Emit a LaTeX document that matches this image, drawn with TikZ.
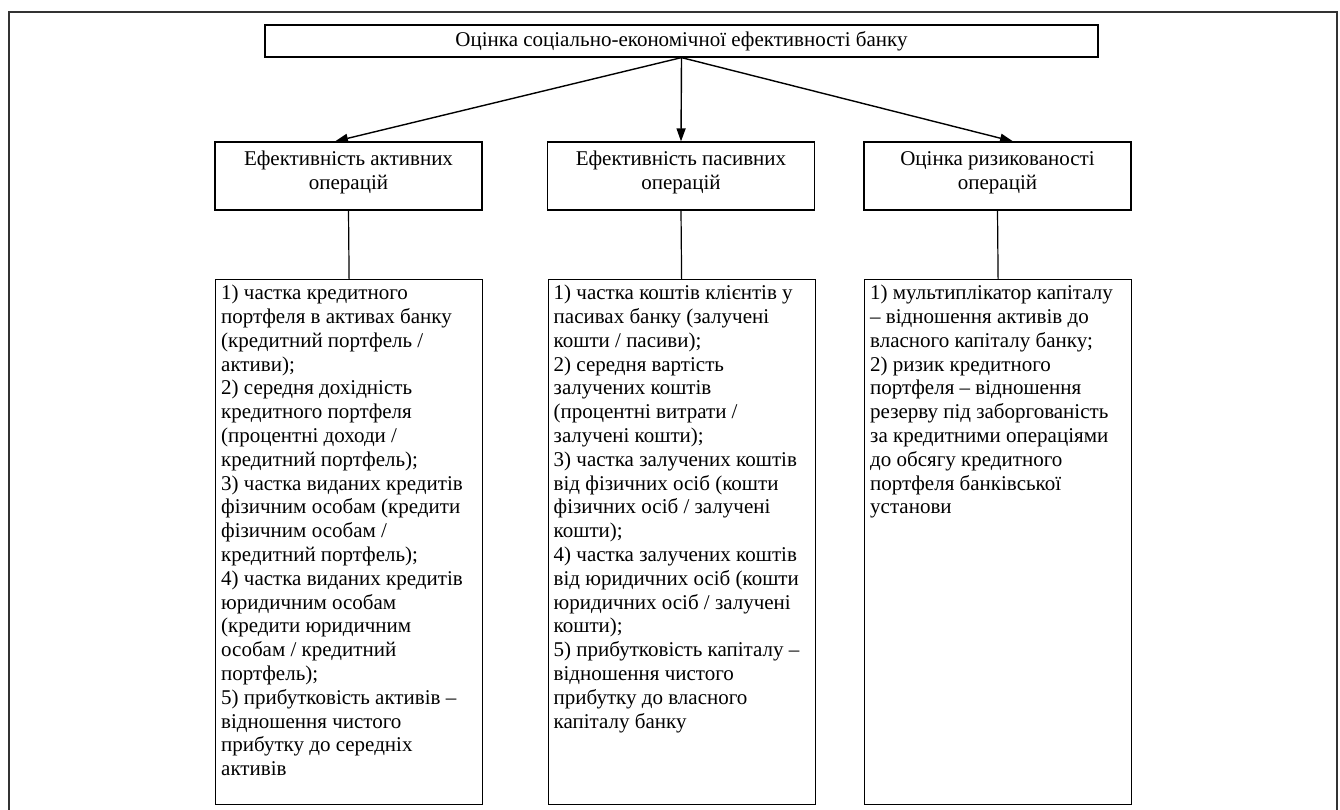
\documentclass[tikz,border=0pt]{standalone}
\usepackage{fontspec}
\setmainfont{Liberation Serif}
\usetikzlibrary{arrows.meta,calc}
\begin{document}
\begin{tikzpicture}[x=1pt,y=-1pt,
  every node/.style={font=\fontsize{21}{23.8}\selectfont},
  frame/.style={line width=2.2pt,draw=black!80},
  boxline/.style={draw,line width=1.2pt},
  headbox/.style={boxline,minimum width=267pt,minimum height=68pt,inner sep=0pt,align=center,text depth=11pt},
  listbox/.style={boxline,minimum width=267pt,minimum height=525pt,inner sep=0pt,anchor=north west},
  listtext/.style={inner sep=0pt,anchor=north west,align=left},
  arr/.style={line width=1.4pt,-{Triangle[length=13pt,width=9pt]}},
  link/.style={line width=1.2pt}]
\useasboundingbox (0,0) rectangle (1340,810);
% outer frame (open at the bottom)
\draw[frame] (9,815) -- (9,12) -- (1337,12) -- (1337,815);
% top box
\node[boxline,minimum width=833pt,minimum height=32pt,inner sep=0pt] (top) at (681.5,41) {Оцінка соціально-економічної ефективності банку};
% heading boxes
\node[headbox] (m1) at (348.5,176) {Ефективність активних\\операцій};
\node[headbox] (m2) at (681,176) {Ефективність пасивних\\операцій};
\node[headbox] (m3) at (997.5,176) {Оцінка ризикованості\\операцій};
% arrows
\draw[arr] (top.south) -- ([xshift=-13.5pt]m1.north);
\draw[arr] (top.south) -- (m2.north);
\draw[arr] (top.south) -- ([xshift=15.5pt]m3.north);
% list boxes
\node[listbox] (b1) at (215,279) {};
\node[listbox] (b2) at (547.5,279) {};
\node[listbox] (b3) at (864,279) {};
\draw[link] (m1.south) -- (b1.north);
\draw[link] (m2.south) -- (b2.north);
\draw[link] (m3.south) -- (b3.north);
\node[listtext] (t1) at ($(b1.north west)+(6,6)$) {1) частка кредитного\\портфеля в активах банку\\(кредитний портфель /\\активи);\\2) середня дохідність\\кредитного портфеля\\(процентні доходи /\\кредитний портфель);\\3) частка виданих кредитів\\фізичним особам (кредити\\фізичним особам /\\кредитний портфель);\\4) частка виданих кредитів\\юридичним особам\\(кредити юридичним\\особам / кредитний\\портфель);\\5) прибутковість активів –\\відношення чистого\\прибутку до середніх\\активів};
\node[listtext] (t2) at ($(b2.north west)+(6,6)$) {1) частка коштів клієнтів у\\пасивах банку (залучені\\кошти / пасиви);\\2) середня вартість\\залучених коштів\\(процентні витрати /\\залучені кошти);\\3) частка залучених коштів\\від фізичних осіб (кошти\\фізичних осіб / залучені\\кошти);\\4) частка залучених коштів\\від юридичних осіб (кошти\\юридичних осіб / залучені\\кошти);\\5) прибутковість капіталу –\\відношення чистого\\прибутку до власного\\капіталу банку};
\node[listtext] (t3) at ($(b3.north west)+(6,6)$) {1) мультиплікатор капіталу\\– відношення активів до\\власного капіталу банку;\\2) ризик кредитного\\портфеля – відношення\\резерву під заборгованість\\за кредитними операціями\\до обсягу кредитного\\портфеля банківської\\установи};
\end{tikzpicture}
\end{document}
